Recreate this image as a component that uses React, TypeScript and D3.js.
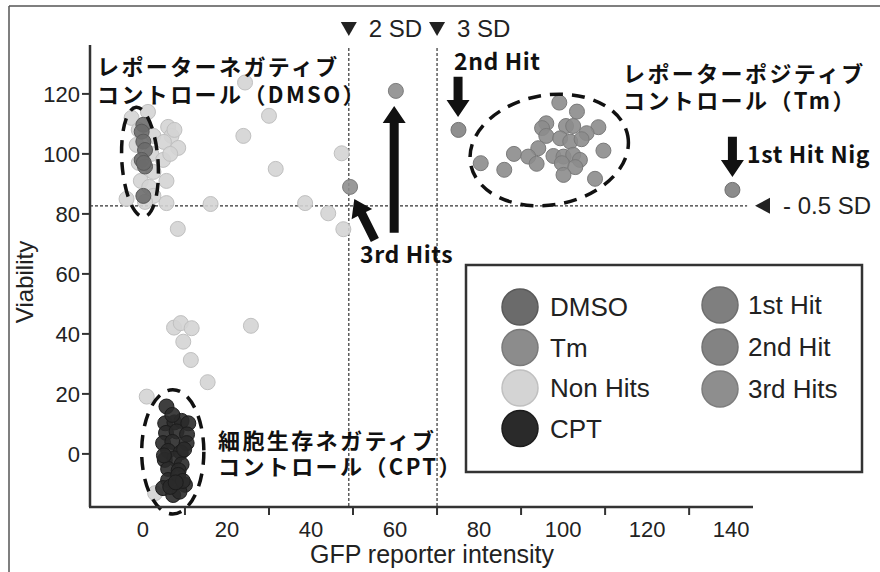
import React from "react";
import * as d3 from "d3";

// values: [GFP reporter intensity, Viability]
const nonHits = [
  [-2.7, 112], [1.2, 114], [-1, 108], [2.5, 106], [-1.5, 103], [2, 100], [-1, 97], [2.5, 94],
  [-0.5, 91], [1.5, 89], [-3.9, 85], [2.5, 86], [0.5, 84],
  [6, 109], [6.8, 106], [8.4, 102], [5, 104], [4.8, 98], [6.5, 100], [5.6, 91], [5.6, 83.6],
  [8.3, 75], [7.5, 108],
  [16.1, 83.3], [24.3, 123.8], [30, 112.7], [23.9, 106], [31.6, 95], [47.3, 100.2],
  [38.6, 83.6], [44.1, 80.2], [47.7, 74.9],
  [7.4, 42.1], [9, 43.6], [11.6, 41.9], [9.6, 37.4], [11.4, 31.3], [15.4, 23.9], [0.9, 19.1],
  [25.7, 42.7], [2.9, -13.1],
];
const dmso = [
  [0.1, 109.7], [-0.3, 107.4], [0.1, 104.1], [0.5, 101.3], [-0.3, 98], [0.5, 95.8], [0.2, 97],
  [0.1, 86],
];
const tm = [
  [99.1, 117.1], [103.3, 114.1], [96, 110.2], [95, 108.6], [100.7, 109.3], [102.4, 109.3],
  [108.4, 108.9], [105.6, 106.9], [96, 106], [99.3, 105.2], [101.7, 104.1], [104.4, 104.9],
  [94.1, 101.9], [88.3, 100], [109.6, 101.1], [91.7, 99.1], [97.7, 99.3], [100.1, 99.1],
  [102.4, 99.7], [104, 98], [93.7, 96.7], [99.7, 96.9], [102.9, 95.6], [80.4, 96.9],
  [86, 94.7], [100.1, 93], [107.6, 91.7],
];
const cpt = [
  [5.6, 15.8], [5.3, 10.2], [7.5, 10.5], [9.2, 11], [10.8, 10.2], [5.5, 7], [8, 7.5], [10.5, 6.5],
  [4.8, 3.6], [7, 4], [10.4, 3.6], [6, 1], [9, 0.5], [5.2, -2], [7.5, -1.5], [9.2, -3.5],
  [6, -5], [8.5, -5.5], [6, -8.7], [8.4, -7], [10, -10.3], [4.8, -11.4], [7.2, -13.7],
  [8.7, -12.6], [6.5, -11], [9.5, -9], [7, 13], [5, -0.5], [9.8, 1.5], [7.8, -9.5],
];
const hit1 = [[140.3, 88]];
const hit2 = [[75.1, 108]];
const hit3 = [[49.3, 89], [60.2, 121]];

const sd2 = 49;
const sd3 = 70;
const sdViab = 82.7;

const xTickLabels = [0, 20, 40, 60, 80, 100, 120, 140];
const xTickMarks = [10, 30, 50, 70, 90, 110, 130];
const yTickLabels = [0, 20, 40, 60, 80, 100, 120];

const legendLeft = ["DMSO", "Tm", "Non Hits", "CPT"];
const legendRight = ["1st Hit", "2nd Hit", "3rd Hits"];

// annotation shapes in data units: [x1, y1, x2(tip), y2(tip)]
const arrows = [
  [75, 125.7, 75, 112.3],
  [140.3, 105.7, 140.3, 92.3],
  [59.8, 73.7, 59.8, 116],
  [55.2, 71.3, 50.3, 85],
];
// [cx, cy, rx, ry, rotation]
const ellipses = [
  [-0.7, 97.3, 4.3, 18.3, -4],
  [7.1, 0.7, 7.4, 20.7, 0],
  [96.7, 101.3, 19, 18.3, -10],
];

const colors: Record<string, [string, string]> = {
  DMSO: ["#6b6b6b", "#5a5a5a"],
  Tm: ["#8c8c8c", "#7a7a7a"],
  "Non Hits": ["#d4d4d4", "#c0c0c0"],
  CPT: ["#2a2a2a", "#1c1c1c"],
  "1st Hit": ["#7f7f7f", "#6e6e6e"],
  "2nd Hit": ["#838383", "#727272"],
  "3rd Hits": ["#8e8e8e", "#7d7d7d"],
};

const x = d3.scaleLinear().domain([-12.6, 145.2]).range([90, 753]);
const y = d3.scaleLinear().domain([-17.7, 136.3]).range([507, 45]);

const sans = "'Liberation Sans', Arial, sans-serif";
const jp = "'Noto Sans CJK JP', sans-serif";

function arrowPath(a: number[]) {
  const x1 = x(a[0]), y1 = y(a[1]), x2 = x(a[2]), y2 = y(a[3]);
  const len = Math.hypot(x2 - x1, y2 - y1);
  const ux = (x2 - x1) / len, uy = (y2 - y1) / len;
  const nx = -uy, ny = ux;
  const sw = 9, hw = 23, hl = 17;
  const bx = x2 - ux * hl, by = y2 - uy * hl;
  const pts = [
    [x1 + nx * sw / 2, y1 + ny * sw / 2],
    [bx + nx * sw / 2, by + ny * sw / 2],
    [bx + nx * hw / 2, by + ny * hw / 2],
    [x2, y2],
    [bx - nx * hw / 2, by - ny * hw / 2],
    [bx - nx * sw / 2, by - ny * sw / 2],
    [x1 - nx * sw / 2, y1 - ny * sw / 2],
  ];
  return d3.line()(pts as [number, number][]) + "Z";
}

function Dots({ data, name }: { data: number[][]; name: string }) {
  const [fill, stroke] = colors[name];
  return (
    <g>
      {data.map((d, i) => (
        <circle key={i} cx={x(d[0])} cy={y(d[1])} r={7.5} fill={fill} stroke={stroke}
          strokeWidth={1} fillOpacity={0.9} />
      ))}
    </g>
  );
}

export default function App() {
  const top = y(135.3);
  return (
    <svg width={880} height={572} style={{ position: "absolute", left: 0, top: 0, background: "#fff" }}>
      {/* outer frame */}
      <line x1={9} y1={6} x2={880} y2={6} stroke="#555" strokeWidth={1.5} />
      <line x1={9} y1={6} x2={9} y2={572} stroke="#555" strokeWidth={1.5} />

      {/* threshold lines */}
      {[sd2, sd3].map((v) => (
        <line key={v} x1={x(v)} x2={x(v)} y1={top} y2={y(-17.7)} stroke="#333"
          strokeWidth={1.2} strokeDasharray="3 2" />
      ))}
      <line x1={90} x2={x(143.8)} y1={y(sdViab)} y2={y(sdViab)} stroke="#333"
        strokeWidth={1.2} strokeDasharray="3 2" />

      {/* points */}
      <Dots data={nonHits} name="Non Hits" />
      <Dots data={dmso} name="DMSO" />
      <Dots data={tm} name="Tm" />
      <Dots data={cpt} name="CPT" />
      <Dots data={hit1} name="1st Hit" />
      <Dots data={hit2} name="2nd Hit" />
      <Dots data={hit3} name="3rd Hits" />

      {/* dashed ellipses */}
      {ellipses.map((e, i) => {
        const cx = x(e[0]), cy = y(e[1]);
        const rx = x(e[2]) - x(0), ry = y(0) - y(e[3]);
        return (
          <ellipse key={i} cx={cx} cy={cy} rx={rx} ry={ry} fill="none" stroke="#111"
            strokeWidth={3.5} strokeDasharray="13 9" transform={`rotate(${e[4]} ${cx} ${cy})`} />
        );
      })}

      {/* arrows */}
      {arrows.map((a, i) => (
        <path key={i} d={arrowPath(a)} fill="#111" />
      ))}

      {/* axes */}
      <line x1={90} x2={90} y1={45} y2={507} stroke="#333" strokeWidth={2.5} />
      <line x1={89} x2={753} y1={507} y2={507} stroke="#333" strokeWidth={2.5} />
      {yTickLabels.map((t) => (
        <g key={t}>
          <line x1={82} x2={90} y1={y(t)} y2={y(t)} stroke="#333" strokeWidth={2} />
          <text x={80} y={y(t)} dy="0.36em" textAnchor="end" fontFamily={sans} fontSize={22}
            fill="#222">{t}</text>
        </g>
      ))}
      {xTickMarks.map((t) => (
        <line key={t} x1={x(t)} x2={x(t)} y1={507} y2={515} stroke="#333" strokeWidth={2} />
      ))}
      {xTickLabels.map((t) => (
        <text key={t} x={x(t)} y={537} textAnchor="middle" fontFamily={sans} fontSize={22}
          fill="#222">{t}</text>
      ))}
      <text x={432} y={563} textAnchor="middle" fontFamily={sans} fontSize={25} fill="#222">
        GFP reporter intensity
      </text>
      <text transform="translate(33,282) rotate(-90)" textAnchor="middle" fontFamily={sans}
        fontSize={24} fill="#222">Viability</text>

      {/* SD markers */}
      {[sd2, sd3].map((v, i) => (
        <g key={v}>
          <path d={`M${x(v) - 8},22L${x(v) + 8},22L${x(v)},36Z`} fill="#222" />
          <text x={x(v) + 20} y={37} fontFamily={sans} fontSize={24} fill="#222">
            {i === 0 ? "2 SD" : "3 SD"}
          </text>
        </g>
      ))}
      <path d={`M755,${y(sdViab)}L770,${y(sdViab) - 8}L770,${y(sdViab) + 8}Z`} fill="#222" />
      <text x={783} y={y(sdViab) + 8} fontFamily={sans} fontSize={24} fill="#222">- 0.5 SD</text>

      {/* annotations */}
      <g fontFamily={jp} fontWeight="bold" fontSize={22} fill="#111">
        <text x={97} y={75} letterSpacing={2.4}>レポーターネガティブ</text>
        <text x={97} y={103} letterSpacing={2.4}>コントロール（DMSO）</text>
        <text x={623} y={82} letterSpacing={2.4}>レポーターポジティブ</text>
        <text x={623} y={109} letterSpacing={2.4}>コントロール（Tm）</text>
        <text x={218} y={449} letterSpacing={2.4}>細胞生存ネガティブ</text>
        <text x={218} y={475} letterSpacing={2.4}>コントロール（CPT）</text>
        <text x={454} y={70} fontSize={23} letterSpacing={0.6}>2nd Hit</text>
        <text x={747} y={163} fontSize={23} letterSpacing={0.6}>1st Hit Nig</text>
        <text x={360} y={263} fontSize={23} letterSpacing={0.6}>3rd Hits</text>
      </g>

      {/* legend */}
      <rect x={466} y={265} width={396} height={207} fill="#fff" stroke="#333" strokeWidth={2.5} />
      {legendLeft.map((name, i) => (
        <g key={name}>
          <circle cx={520} cy={307 + i * 40.5} r={18} fill={colors[name][0]} stroke={colors[name][1]}
            strokeWidth={1.5} />
          <text x={550} y={307 + i * 40.5} dy="0.36em" fontFamily={sans} fontSize={26} fill="#222">
            {name}
          </text>
        </g>
      ))}
      {legendRight.map((name, i) => (
        <g key={name}>
          <circle cx={720} cy={305 + i * 42} r={18} fill={colors[name][0]} stroke={colors[name][1]}
            strokeWidth={1.5} />
          <text x={748} y={305 + i * 42} dy="0.36em" fontFamily={sans} fontSize={26} fill="#222">
            {name}
          </text>
        </g>
      ))}
    </svg>
  );
}
